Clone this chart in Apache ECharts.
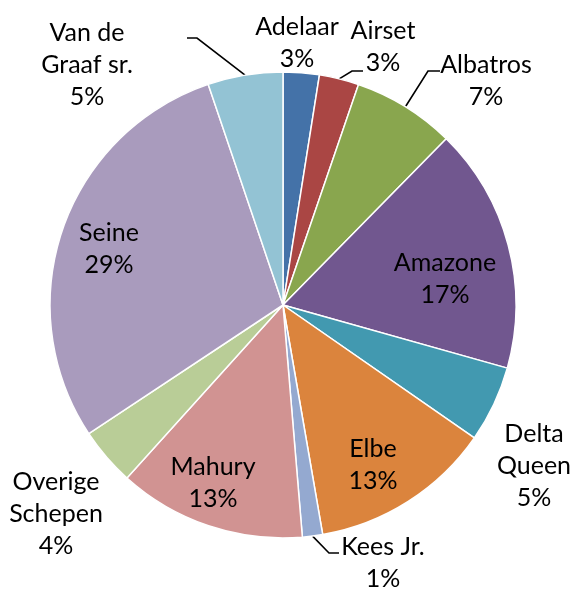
<!DOCTYPE html>
<html>
<head>
<meta charset="utf-8">
<script src="https://cdn.jsdelivr.net/npm/echarts@6/dist/echarts.min.js"></script>
<style>
html,body{margin:0;padding:0;background:#fff;}
#c{width:571px;height:590px;}
</style>
</head>
<body>
<div id="c"></div>
<script>
const categories = ['Adelaar', 'Airset', 'Albatros', 'Amazone', 'Delta Queen', 'Elbe', 'Kees Jr.', 'Mahury', 'Overige Schepen', 'Seine', 'Van de Graaf sr.'];
const labelNames = ['Adelaar', 'Airset', 'Albatros', 'Amazone', 'Delta\nQueen', 'Elbe', 'Kees Jr.', 'Mahury', 'Overige\nSchepen', 'Seine', 'Van de\nGraaf sr.'];
const values = [2.5, 2.75, 7.1, 17.0, 5.3, 12.6, 1.4, 13.0, 4.0, 29.1, 5.2];
const pctLabels = ['3%', '3%', '7%', '17%', '5%', '13%', '1%', '13%', '4%', '29%', '5%'];
const colors = ['#4472A8', '#AA4644', '#89A64E', '#71578F', '#4299B0', '#DB843D', '#94A9D0', '#D19392', '#B9CD97', '#A99BBD', '#93C3D4'];

// label block centres and leader-line elbows (layout only)
const labelPos = [
  {x: 297, y: 43},
  {x: 383, y: 47, elbow: [[352, 71], [363, 71]]},
  {x: 486, y: 81, elbow: [[428, 71], [440, 71]]},
  {x: 445, y: 279},
  {x: 534, y: 466},
  {x: 373, y: 465},
  {x: 383, y: 563, elbow: [[329, 553], [339, 553]]},
  {x: 213, y: 483},
  {x: 56, y: 514},
  {x: 109, y: 249},
  {x: 87, y: 65, elbow: [[197, 38], [187, 38]]}
];

const chart = echarts.init(document.getElementById('c'), null, {renderer: 'canvas'});
const data = categories.map((n, i) => ({
  name: n,
  value: values[i],
  itemStyle: {color: colors[i]},
  labelLine: {show: !!labelPos[i].elbow}
}));

chart.setOption({
  animation: false,
  backgroundColor: '#fff',
  series: [{
    type: 'pie',
    center: [283, 305],
    radius: [0, 233],
    startAngle: 90,
    clockwise: true,
    avoidLabelOverlap: false,
    data: data,
    itemStyle: {borderColor: '#fff', borderWidth: 1.5},
    label: {
      show: true,
      position: 'outside',
      formatter: p => labelNames[p.dataIndex] + '\n' + pctLabels[p.dataIndex],
      fontFamily: 'Lato',
      fontSize: 25,
      lineHeight: 32,
      color: '#000',
      align: 'center'
    },
    labelLine: {
      show: true,
      length: 10,
      length2: 10,
      lineStyle: {color: '#000', width: 1.6}
    },
    labelLayout: function (p) {
      const cfg = labelPos[p.dataIndex];
      const out = {x: cfg.x, y: cfg.y, align: 'center', verticalAlign: 'middle'};
      if (cfg.elbow && p.labelLinePoints) {
        out.labelLinePoints = [p.labelLinePoints[0], cfg.elbow[0], cfg.elbow[1]];
      }
      return out;
    }
  }]
});
</script>
</body>
</html>
